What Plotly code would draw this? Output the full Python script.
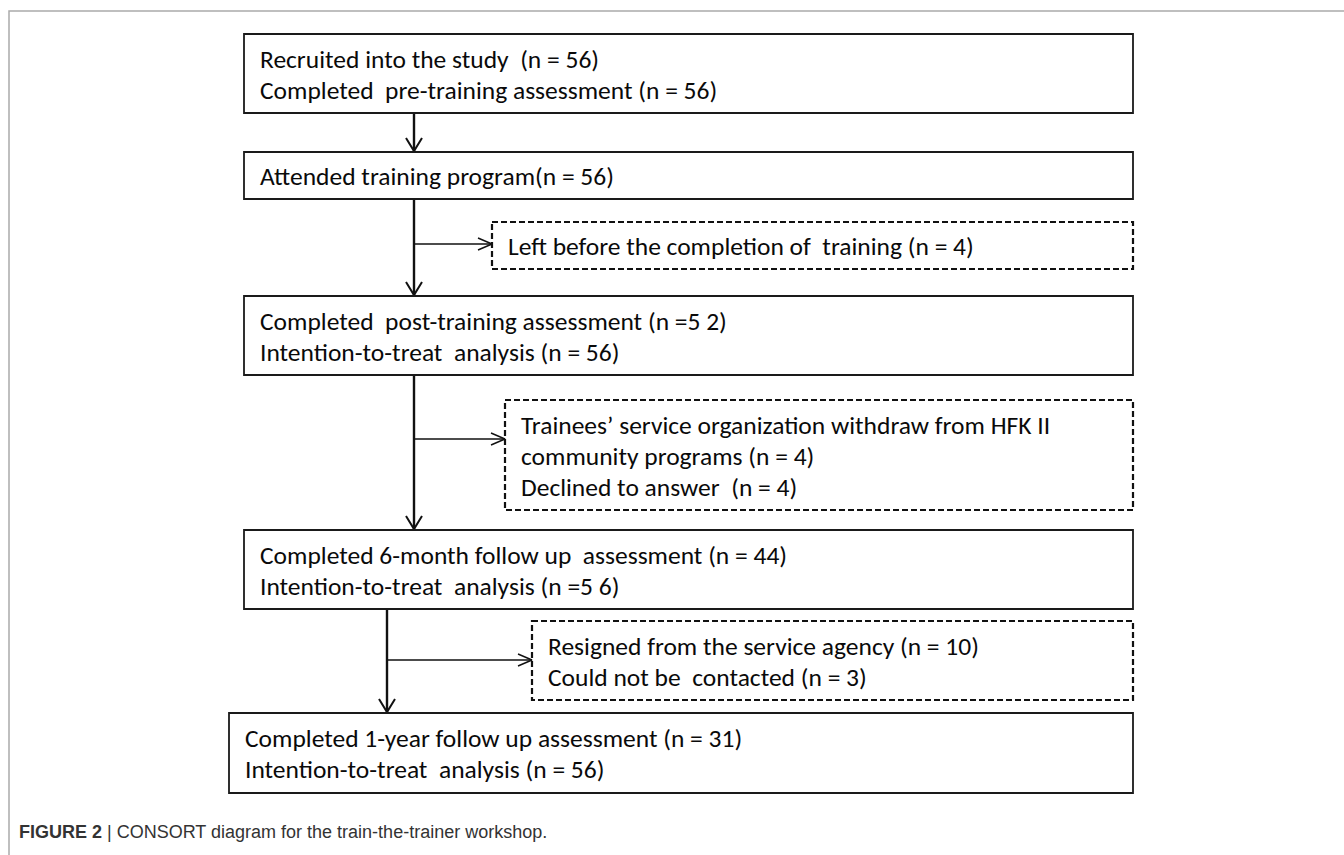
import plotly.graph_objects as go

# ---- content (data) ----
main_box_lines = [
    ["Recruited into the study  (n = 56)", "Completed  pre-training assessment (n = 56)"],
    ["Attended training program(n = 56)"],
    ["Completed  post-training assessment (n =5 2)", "Intention-to-treat  analysis (n = 56)"],
    ["Completed 6-month follow up  assessment (n = 44)", "Intention-to-treat  analysis (n =5 6)"],
    ["Completed 1-year follow up assessment (n = 31)", "Intention-to-treat  analysis (n = 56)"],
]
excluded_box_lines = [
    ["Left before the completion of  training (n = 4)"],
    ["Trainees\u2019 service organization withdraw from HFK II", "community programs (n = 4)", "Declined to answer  (n = 4)"],
    ["Resigned from the service agency (n = 10)", "Could not be  contacted (n = 3)"],
]
caption_bold = "FIGURE 2"
caption_text = " | CONSORT diagram for the train-the-trainer workshop."

# ---- layout geometry (pixels) ----
W, H = 1344, 855
main_geom = [  # x0, x1, y0, y1
    (244, 1133, 34, 113),
    (244, 1133, 152, 199),
    (244, 1133, 296, 375),
    (244, 1133, 530, 609),
    (229, 1133, 713, 793),
]
excl_geom = [
    (492, 1133, 222, 269),
    (505, 1133, 400, 510),
    (532, 1133, 621, 700),
]
spine_x = [414, 414, 414, 387]
branch_y = [None, 244, 439, 660]
line_gap = 31
FONT = "Carlito, Lato, Calibri, sans-serif"
FS = 25.5

fig = go.Figure()
shapes = []
annotations = []

def add_text_lines(lines, x0, y0, y1, tx):
    n = len(lines)
    cy = (y0 + y1) / 2
    start = cy - (n - 1) * line_gap / 2
    for i, t in enumerate(lines):
        annotations.append(dict(x=tx, y=start + i * line_gap + 1, text=t, xref="x", yref="y",
                                showarrow=False, xanchor="left", yanchor="middle",
                                font=dict(family=FONT, size=FS, color="#0a0a0a")))

for lines, (x0, x1, y0, y1) in zip(main_box_lines, main_geom):
    shapes.append(dict(type="rect", xref="x", yref="y", x0=x0, x1=x1, y0=y0, y1=y1,
                       line=dict(color="#1a1a1a", width=1.8), fillcolor="white", layer="above"))
for lines, (x0, x1, y0, y1) in zip(main_box_lines, main_geom):
    add_text_lines(lines, x0, y0, y1, x0 + 14)

for lines, (x0, x1, y0, y1) in zip(excluded_box_lines, excl_geom):
    shapes.append(dict(type="rect", xref="x", yref="y", x0=x0, x1=x1, y0=y0, y1=y1,
                       line=dict(color="#111", width=2.2, dash="6px,3px"), fillcolor="rgba(0,0,0,0)",
                       layer="above"))
    add_text_lines(lines, x0, y0, y1, x0 + 14)

def seg(xs, ys, width, color="#111"):
    fig.add_trace(go.Scatter(x=xs, y=ys, mode="lines", line=dict(color=color, width=width),
                             hoverinfo="skip", showlegend=False))

# vertical spines with open arrowheads
for i in range(4):
    sx = spine_x[i]
    ytop = main_geom[i][3]
    ybot = main_geom[i + 1][2]
    seg([sx, sx], [ytop, ybot - 1], 2.4)
    seg([sx - 8, sx, sx + 8], [ybot - 14, ybot - 1, ybot - 14], 2)
    if branch_y[i] is not None:
        by = branch_y[i]
        ex = excl_geom[i - 1][0]
        seg([sx, ex], [by, by], 1.4)
        seg([ex - 14, ex, ex - 14], [by - 6, by, by + 6], 1.4)

# outer frame
seg([9, 9, W], [H, 11, 11], 1.5, "#aaaaaa")

annotations.append(dict(x=17, y=832, xref="x", yref="y", showarrow=False, xanchor="left",
                        yanchor="middle",
                        text="<b>" + caption_bold + "</b>" + caption_text,
                        font=dict(family="Liberation Sans Narrow, Arial Narrow, Liberation Sans, sans-serif",
                                  size=18, color="#333")))

fig.update_layout(
    width=W, height=H, margin=dict(l=0, r=0, t=0, b=0),
    paper_bgcolor="white", plot_bgcolor="white",
    shapes=shapes, annotations=annotations,
    xaxis=dict(range=[0, W], visible=False, fixedrange=True),
    yaxis=dict(range=[H, 0], visible=False, fixedrange=True),
)
fig.write_html("out.html", config={"displayModeBar": False},
               post_script="document.body.style.margin='0';document.body.style.overflow='hidden';")
